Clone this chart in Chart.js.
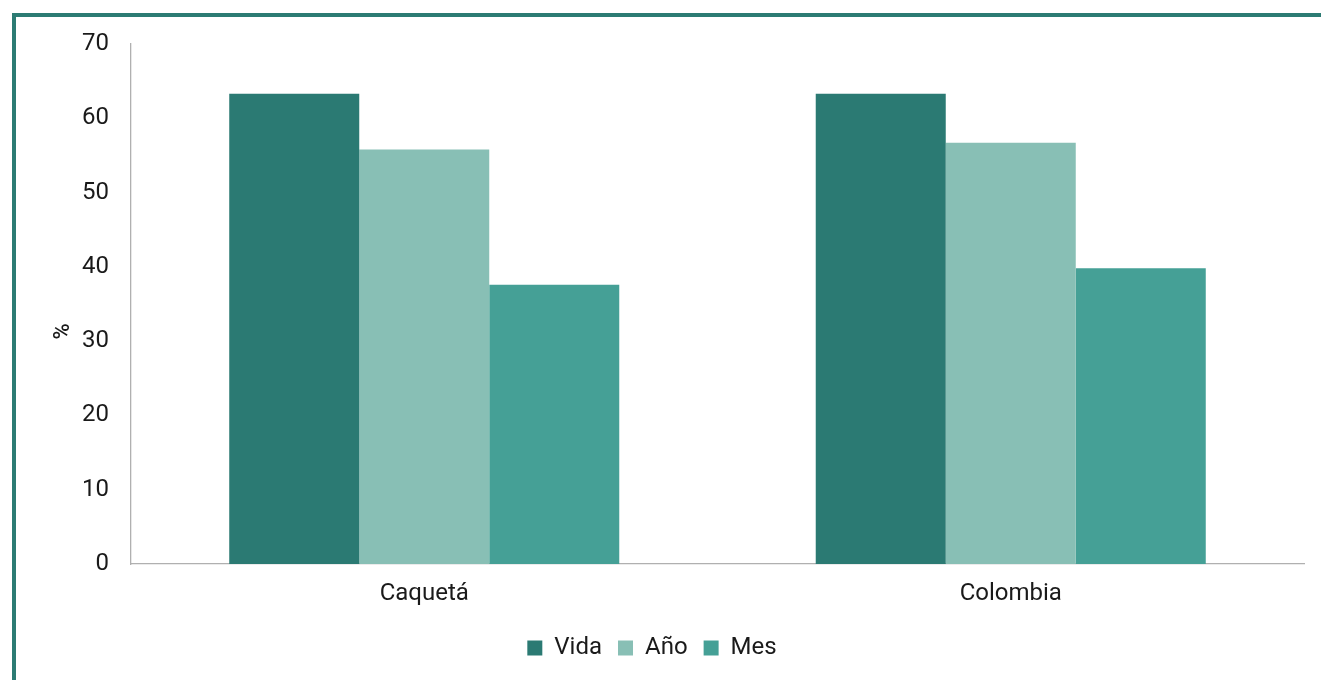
<!DOCTYPE html>
<html><head><meta charset="utf-8">
<script src="https://cdn.jsdelivr.net/npm/chart.js@4.4.0/dist/chart.umd.min.js"></script>
<style>
html,body{margin:0;padding:0;background:#fff;}
#wrap{position:relative;width:1321px;height:680px;overflow:hidden;}
#frame{position:absolute;left:12px;top:13px;width:1400px;height:800px;border-top:4px solid #2c7b73;border-left:4px solid #2c7b73;box-sizing:border-box;pointer-events:none;}
canvas{position:absolute;left:0;top:0;}
</style></head><body>
<div id="wrap"><canvas id="c" width="1321" height="680"></canvas><div id="frame"></div></div>
<script>
const categories = ["Caquetá", "Colombia"];
const seriesNames = ["Vida", "Año", "Mes"];
const vida = [63.3, 63.3];
const anio = [55.8, 56.7];
const mes = [37.6, 39.8];
const yTicks = [0, 10, 20, 30, 40, 50, 60, 70];
const colors = ["#2b7a73", "#88bfb5", "#45a096"];

Chart.defaults.font.family = "Roboto, 'Noto Sans', sans-serif";
Chart.defaults.color = "#1a1a1a";

new Chart(document.getElementById('c'), {
  type: 'bar',
  data: {
    labels: categories,
    datasets: [vida, anio, mes].map((d, i) => ({
      label: seriesNames[i], data: d, backgroundColor: colors[i],
      categoryPercentage: 0.665, barPercentage: 1.0, borderWidth: 0
    }))
  },
  options: {
    responsive: false, animation: false,
    layout: { padding: { left: 0, right: 17, top: 44, bottom: 10 } },
    plugins: {
      tooltip: { enabled: false },
      legend: {
        position: 'bottom',
        labels: { font: { size: 24 }, boxWidth: 15, boxHeight: 15, padding: 16, color: '#1a1a1a' }
      }
    },
    scales: {
      x: {
        grid: { display: false, drawTicks: false },
        border: { color: '#b0b0b0', width: 1.3 },
        ticks: { font: { size: 24 }, padding: 16, color: '#1a1a1a' },
        afterFit: s => { s.height = 56; }
      },
      y: {
        min: 0, max: 70,
        afterBuildTicks: s => { s.ticks = yTicks.map(v => ({ value: v })); },
        grid: { display: false, drawTicks: false },
        border: { color: '#b0b0b0', width: 1.3 },
        ticks: { font: { size: 24 }, padding: 22, color: '#1a1a1a' },
        title: { display: true, text: '%          ', font: { size: 22, weight: '500' }, color: '#1a1a1a', padding: { top: 50, bottom: 0 } },
        afterFit: s => { s.width = 131; }
      }
    }
  }
});
</script>
</body></html>
